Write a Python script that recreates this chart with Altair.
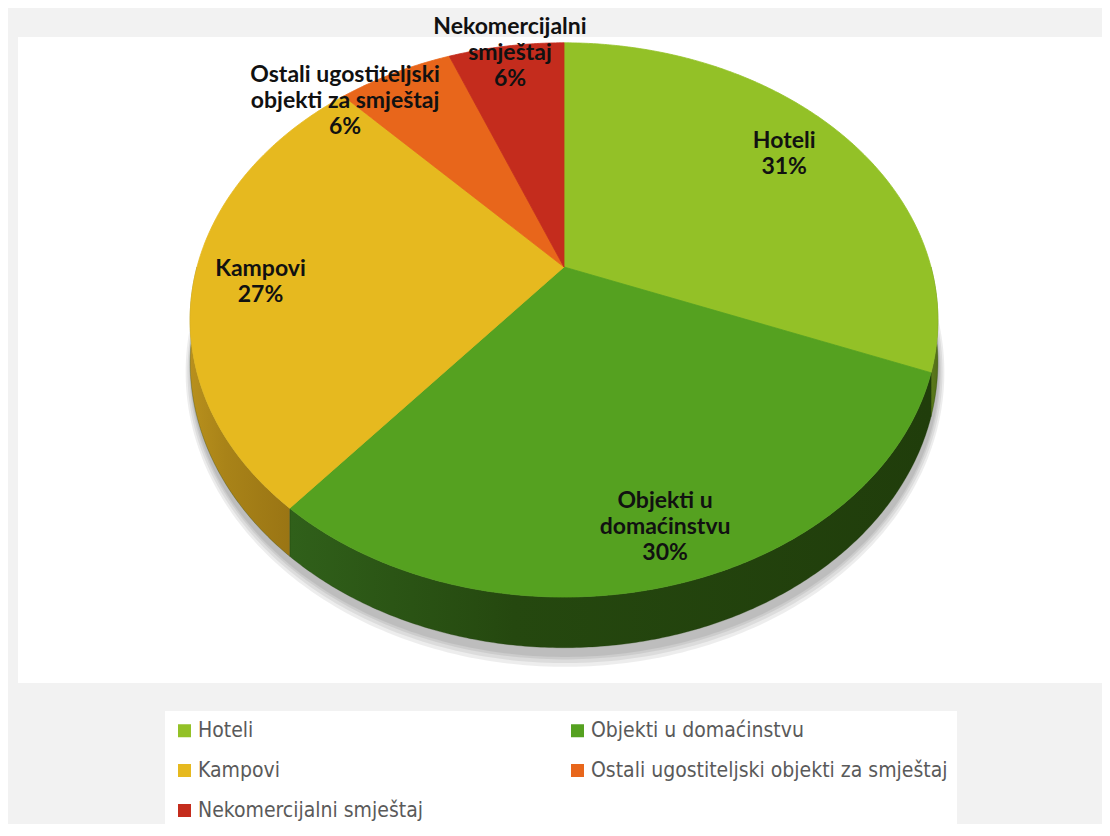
import numpy as np
import pandas as pd
import altair as alt

# ---------------- data ----------------
categories = ["Hoteli", "Objekti u domaćinstvu", "Kampovi",
              "Ostali ugostiteljski objekti za smještaj", "Nekomercijalni smještaj"]
shares = [31, 30, 27, 6, 6]
label_names = ["Hoteli", "Objekti u\ndomaćinstvu", "Kampovi",
               "Ostali ugostiteljski\nobjekti za smještaj", "Nekomercijalni\nsmještaj"]

# ---------------- style ----------------
top_colors = ["#93c127", "#55a120", "#e6b91f", "#e8661b", "#c42c1d"]
W, H = 1094, 816
CX, CY = 564, 267          # projected pie centre (page px)
RA, RB, KP = 367, 267, 0.191  # horizontal / vertical radius, perspective factor
DEPTH = 41
LABEL_LH = 26
label_r = [0.80, 0.853, 0.82, 0.978, 0.963]
label_dt = [-1.1, -1.4, -2.2, -11.4, 0.4]


def proj(r, t_deg, drop=0.0):
    t = np.radians(t_deg)
    u, v = r * np.sin(t), r * np.cos(t)
    w = 1 + KP * v
    return CX + RA * u / w, CY - RB * v / w + drop / w


total = float(sum(shares))
bounds = np.concatenate([[0], np.cumsum(shares)]) / total * 360.0

top_rows, side_rows, label_rows = [], [], []
for i, cat in enumerate(categories):
    a0, a1 = bounds[i], bounds[i + 1]
    ts = np.linspace(a0, a1, max(4, int((a1 - a0) * 2)))
    pts = [(CX, CY)] + [proj(1, t) for t in ts] + [(CX, CY)]
    for k, (x, y) in enumerate(pts):
        top_rows.append({"slice": cat, "o": k, "x": x, "y": y})
    s0, s1 = max(a0, 90), min(a1, 270)
    if s1 > s0:
        ts = np.linspace(s0, s1, max(4, int((s1 - s0) * 2)))
        up = [proj(1, t) for t in ts]
        dn = [proj(1, t, DEPTH) for t in ts[::-1]]
        poly = up + dn + [up[0]]
        for k, (x, y) in enumerate(poly):
            side_rows.append({"slice": cat, "o": k, "x": x, "y": y})
    mid = (a0 + a1) / 2 + label_dt[i]
    lx, ly = proj(label_r[i], mid)
    txt = f"{label_names[i]}\n{shares[i]}%"
    n_lines = txt.count("\n") + 1
    label_rows.append({"slice": cat, "x": lx, "y": ly - (n_lines - 1) / 2 * LABEL_LH,
                       "txt": txt})

shadow_rows = []
for ring, e in enumerate([9, 6, 3, 1]):
    ts = np.linspace(0, 360, 400)
    for k, t in enumerate(ts):
        tr = np.radians(t)
        u, v = np.sin(tr), np.cos(tr)
        w = 1 + KP * v
        x = CX + (RA + e * 0.6) * u / w + 1
        y = CY - (RB + e) * v / w + DEPTH / w + 8
        shadow_rows.append({"ring": ring, "o": k, "x": x, "y": y})

top_df = pd.DataFrame(top_rows)
side_df = pd.DataFrame(side_rows)
label_df = pd.DataFrame(label_rows)
shadow_df = pd.DataFrame(shadow_rows)

xs = alt.Scale(domain=[8, 8 + W], nice=False, zero=False)
ys = alt.Scale(domain=[8, 8 + H], nice=False, zero=False, reverse=True)


def X(f="x"):
    return alt.X(f"{f}:Q", scale=xs, axis=None)


def Y(f="y"):
    return alt.Y(f"{f}:Q", scale=ys, axis=None)


panel = alt.Chart(pd.DataFrame({"a": [18], "b": [1110], "c": [37], "d": [683]})).mark_rect(
    color="white").encode(x=X("a"), x2="b:Q", y=Y("c"), y2="d:Q")

shadow = alt.Chart(shadow_df).mark_line(filled=True, fill="#000000", fillOpacity=0.07,
                                        strokeWidth=0).encode(
    x=X(), y=Y(), detail="ring:N", order="o:Q")


def grad(c0, c1, c2):
    return alt.Gradient(gradient="linear", x1=0, x2=1, y1=0, y2=0,
                        stops=[alt.GradientStop(color=c0, offset=0),
                               alt.GradientStop(color=c1, offset=0.35),
                               alt.GradientStop(color=c2, offset=1)])


side_fills = {
    "Hoteli": grad("#5b7a18", "#58761a", "#526e16"),
    "Objekti u domaćinstvu": grad("#30601a", "#25480f", "#203d0b"),
    "Kampovi": grad("#b8901d", "#a98318", "#9a7514"),
}
side_layers = []
for cat, g in side_fills.items():
    side_layers.append(
        alt.Chart(side_df).transform_filter(alt.datum.slice == cat).mark_line(
            filled=True, fill=g, stroke="#203d0b", strokeWidth=0.3).encode(
            x=X(), y=Y(), order="o:Q"))

top = alt.Chart(top_df).mark_line(filled=True, strokeWidth=0.8).encode(
    x=X(), y=Y(), order="o:Q",
    color=alt.Color("slice:N", sort=categories,
                    scale=alt.Scale(domain=categories, range=top_colors),
                    legend=alt.Legend(
                        orient="none", legendX=157, legendY=703, columns=2,
                        direction="horizontal",
                        title=None, symbolType="square", symbolSize=169,
                        symbolStrokeWidth=0, labelFont="DejaVu Sans Condensed",
                        labelFontSize=21, labelColor="#5a5a5a", labelOffset=3,
                        fillColor="white", padding=9, rowPadding=18,
                        columnPadding=144, labelLimit=600)),
    stroke=alt.Stroke("slice:N", scale=alt.Scale(domain=categories, range=top_colors),
                      legend=None))

labels = alt.Chart(label_df).mark_text(
    font="Lato", fontWeight="bold", fontSize=23, lineHeight=LABEL_LH, lineBreak="\n",
    color="#111111", align="center", baseline="middle").encode(
    x=X(), y=Y(), text="txt:N")

chart = alt.layer(panel, shadow, *side_layers, top, labels).properties(
    width=W, height=H, padding=0, background="#f2f2f2",
    autosize=alt.AutoSizeParams(type="none")
).configure_view(stroke=None)

chart.save("out.html", embed_options={"renderer": "svg", "actions": False})
